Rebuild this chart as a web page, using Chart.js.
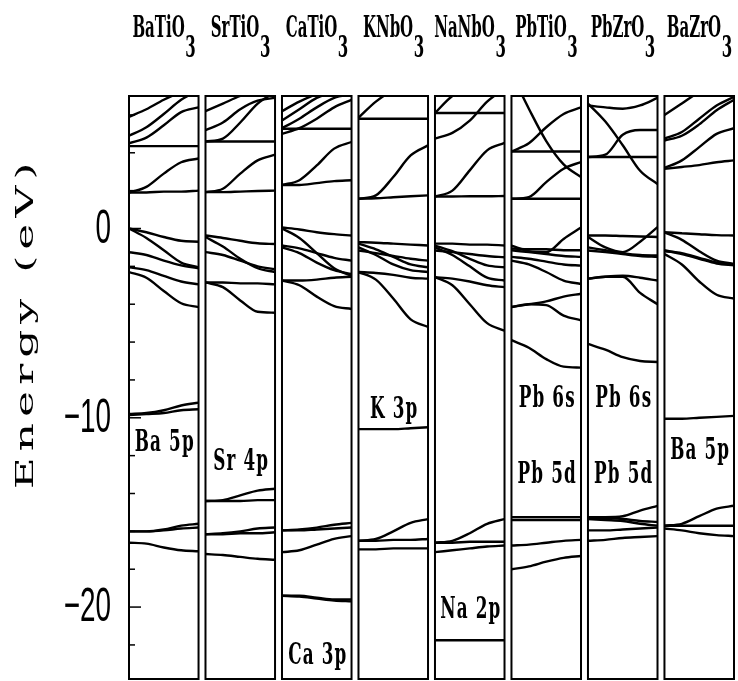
<!DOCTYPE html>
<html><head><meta charset="utf-8">
<script src="https://cdn.jsdelivr.net/npm/chart.js@4/dist/chart.umd.min.js"></script>
<style>html,body{margin:0;padding:0;background:#fff;}canvas{display:block;}</style>
</head><body>
<canvas id="c" width="738" height="681"></canvas>
<script>
// ---- data (energies in eV) ----
const compounds = ['BaTi', 'SrTi', 'CaTi', 'KNb', 'NaNb', 'PbTi', 'PbZr', 'BaZr'];
const kFrac = [0, 0.25, 0.5, 0.75, 1];

const bandsBaTiO3 = [
  [1.9, 1.9, 1.95, 1.95, 2.0], [1.9, 2.2, 2.9, 3.5, 3.7], [4.35, 4.35, 4.35, 4.35, 4.35],
  [4.5, 4.8, 5.45, 6.15, 6.4], [4.9, 5.35, 6.05, 6.8, 7.3], [5.9, 6.3, 6.8, 7.2, 7.4],
  [0, -0.2, -0.45, -0.65, -0.7], [0, -0.5, -1.15, -1.8, -2.05], [-1.25, -1.4, -1.7, -1.95, -2.1],
  [-2.05, -2.2, -2.5, -2.8, -2.95], [-2.3, -2.6, -3.3, -3.95, -4.15],
  [-9.8, -9.75, -9.6, -9.35, -9.2], [-9.85, -9.8, -9.75, -9.6, -9.55],
  [-16.0, -16.0, -15.9, -15.7, -15.6], [-16.0, -16.0, -15.95, -15.85, -15.8], [-16.6, -16.65, -16.85, -17.0, -17.05]
];
const bandsSrTiO3 = [
  [1.92, 1.92, 1.95, 1.98, 2.0], [1.92, 2.1, 2.9, 3.6, 3.9], [4.6, 4.6, 4.6, 4.6, 4.6],
  [4.6, 4.75, 5.6, 6.6, 7.2], [5.2, 5.6, 6.3, 6.75, 6.9], [6.2, 6.6, 7.0, 7.3, 7.4],
  [-0.37, -0.5, -0.65, -0.78, -0.82], [-0.45, -0.95, -1.6, -2.1, -2.3], [-1.25, -1.4, -1.7, -2.0, -2.15],
  [-2.85, -2.85, -2.9, -2.9, -2.95], [-2.85, -3.1, -3.8, -4.4, -4.45],
  [-14.4, -14.35, -14.1, -13.85, -13.75], [-14.4, -14.4, -14.4, -14.35, -14.35],
  [-16.15, -16.1, -16.0, -15.85, -15.8], [-16.15, -16.15, -16.1, -16.1, -16.05], [-17.2, -17.25, -17.35, -17.45, -17.5]
];
const bandsCaTiO3 = [
  [2.3, 2.3, 2.4, 2.5, 2.55], [2.3, 2.55, 3.33, 4.22, 4.57], [5.27, 5.27, 5.27, 5.27, 5.27],
  [5.0, 5.3, 5.8, 6.4, 6.8], [5.3, 5.8, 6.4, 6.9, 7.1], [5.7, 6.3, 6.9, 7.2, 7.3], [6.2, 6.7, 7.1, 7.3, 7.4],
  [0.05, -0.05, -0.2, -0.3, -0.37], [0, -0.5, -1.3, -2.1, -2.5], [-0.9, -1.05, -1.3, -1.55, -1.7],
  [-1.0, -1.3, -1.8, -2.2, -2.4], [-2.75, -2.75, -2.7, -2.6, -2.55], [-2.75, -3.0, -3.6, -4.1, -4.25],
  [-15.95, -15.9, -15.8, -15.65, -15.55], [-15.95, -15.95, -15.9, -15.85, -15.8], [-17.1, -17.0, -16.7, -16.4, -16.25],
  [-19.4, -19.45, -19.55, -19.65, -19.7], [-19.4, -19.4, -19.5, -19.6, -19.6]
];
const bandsKNbO3 = [
  [1.57, 1.6, 1.65, 1.7, 1.75], [1.57, 1.75, 2.72, 3.86, 4.39], [5.8, 5.8, 5.8, 5.8, 5.8],
  [5.85, 6.7, 7.3, 7.5, 7.5],
  [-0.72, -0.75, -0.8, -0.85, -0.9], [-0.8, -1.1, -1.5, -1.9, -2.05], [-1.16, -1.3, -1.45, -1.6, -1.7],
  [-1.0, -1.4, -1.9, -2.2, -2.3], [-2.3, -2.35, -2.45, -2.6, -2.65], [-2.3, -2.7, -3.7, -4.8, -5.2],
  [-10.6, -10.6, -10.6, -10.55, -10.5],
  [-16.5, -16.4, -16.0, -15.55, -15.35], [-16.5, -16.5, -16.45, -16.45, -16.4], [-16.95, -16.95, -16.9, -16.9, -16.9]
];
const bandsNaNbO3 = [
  [1.69, 1.69, 1.7, 1.7, 1.72], [1.69, 2.0, 3.07, 4.13, 4.52], [6.1, 6.1, 6.1, 6.1, 6.1],
  [4.75, 5.05, 5.7, 6.7, 7.4], [6.1, 7.0, 7.4, 7.5, 7.5],
  [-0.8, -0.8, -0.85, -0.85, -0.9], [-0.9, -1.2, -1.6, -1.95, -2.05], [-1.16, -1.25, -1.35, -1.45, -1.52],
  [-1.0, -1.4, -2.0, -2.6, -2.75], [-2.57, -2.65, -2.8, -3.0, -3.1], [-2.57, -3.0, -4.0, -5.0, -5.4],
  [-16.6, -16.5, -16.1, -15.6, -15.35], [-16.6, -16.6, -16.55, -16.55, -16.55], [-17.1, -17.0, -16.9, -16.8, -16.75],
  [-21.75, -21.75, -21.75, -21.75, -21.75]
];
const bandsPbTiO3 = [
  [8.2, 6.33, 4.62, 3.39, 2.72], [4.07, 4.5, 5.35, 6.05, 6.4], [4.07, 4.07, 4.07, 4.07, 4.07],
  [1.57, 1.57, 1.57, 1.57, 1.57], [1.57, 1.66, 2.45, 3.16, 3.51],
  [-1.05, -1.1, -1.1, -1.15, -1.15], [-0.9, -1.2, -1.25, -0.55, 0.05], [-1.15, -1.25, -1.35, -1.45, -1.5],
  [-1.5, -1.6, -1.75, -1.9, -1.96], [-1.7, -1.9, -2.3, -2.75, -2.93],
  [-4.15, -4.0, -3.85, -3.6, -3.45], [-4.15, -4.0, -4.05, -4.6, -4.85], [-5.9, -6.3, -6.9, -7.3, -7.35],
  [-15.25, -15.25, -15.25, -15.25, -15.25], [-15.4, -15.4, -15.4, -15.4, -15.4],
  [-16.75, -16.7, -16.6, -16.5, -16.45], [-18.0, -17.85, -17.6, -17.4, -17.3]
];
const bandsPbZrO3 = [
  [6.5, 6.4, 6.33, 6.5, 6.9], [6.6, 5.65, 4.4, 3.05, 2.35], [3.78, 3.9, 4.95, 5.2, 5.2],
  [3.78, 3.78, 3.78, 3.78, 3.78],
  [-0.37, -0.37, -0.4, -0.42, -0.45], [-0.45, -1.0, -1.25, -0.7, 0.07], [-1.0, -1.15, -1.3, -1.4, -1.43],
  [-1.16, -1.25, -1.35, -1.45, -1.5],
  [-2.65, -2.55, -2.5, -2.6, -2.75], [-2.65, -2.55, -2.55, -3.4, -4.0], [-6.1, -6.4, -6.8, -7.0, -7.05],
  [-15.25, -15.25, -15.2, -14.9, -14.65], [-15.3, -15.3, -15.35, -15.45, -15.5], [-15.35, -15.4, -15.45, -15.6, -15.7],
  [-15.95, -15.95, -15.9, -15.85, -15.8], [-16.5, -16.45, -16.35, -16.3, -16.25]
];
const bandsBaZrO3 = [
  [6.0, 6.6, 7.2, 7.5, 7.5], [4.65, 4.9, 5.5, 6.25, 6.8], [4.75, 5.1, 5.8, 6.5, 6.95],
  [3.2, 3.6, 4.3, 5.0, 5.3], [3.15, 3.25, 3.35, 3.5, 3.6],
  [-0.2, -0.25, -0.3, -0.35, -0.37], [-0.2, -0.6, -1.2, -1.7, -1.87], [-1.15, -1.35, -1.6, -1.85, -1.95],
  [-1.2, -1.3, -1.55, -1.8, -1.9], [-1.35, -1.9, -2.8, -3.5, -3.7],
  [-10.05, -10.05, -10.0, -9.95, -9.9],
  [-15.7, -15.6, -15.2, -14.8, -14.65], [-15.7, -15.7, -15.7, -15.7, -15.7], [-15.85, -15.95, -16.1, -16.2, -16.25]
];
const panelBands = [bandsBaTiO3, bandsSrTiO3, bandsCaTiO3, bandsKNbO3, bandsNaNbO3, bandsPbTiO3, bandsPbZrO3, bandsBaZrO3];

const yTickValues = [6, 4, 2, 0, -2, -4, -6, -8, -10, -12, -14, -16, -18, -20, -22];
const yLabelValues = [0, -10, -20];
const coreLabelText = ['Ba 5p', 'Sr 4p', 'Ca 3p', 'K 3p', 'Na 2p', 'Pb 6s', 'Pb 5d', 'Pb 6s', 'Pb 5d', 'Ba 5p'];
const coreLabelPanel = [0, 1, 2, 3, 4, 5, 5, 6, 6, 7];
const coreLabelEnergy = [-11.75, -12.75, -23.0, -10.0, -20.6, -9.45, -13.45, -9.45, -13.45, -12.2];

// ---- layout constants ----
const E_MIN = -23.8, E_MAX = 7;
const STEP = 1.1;
const SERIF = '"DejaVu Serif", "Liberation Serif", serif';

const datasets = [];
panelBands.forEach((bands, p) => {
  bands.forEach(b => {
    datasets.push({
      data: b.map((e, j) => ({ x: p * STEP + kFrac[j], y: e })),
      borderColor: '#000', borderWidth: 2.4, pointRadius: 0,
      cubicInterpolationMode: 'monotone', fill: false
    });
  });
});

function scaledText(ctx, text, x, y, sx, align) {
  ctx.save(); ctx.translate(x, y); ctx.scale(sx, 1);
  ctx.textAlign = align; ctx.fillText(text, 0, 0); ctx.restore();
}

const decor = {
  id: 'decor',
  afterDatasetsDraw(chart) {
    const ctx = chart.ctx, xs = chart.scales.x, ys = chart.scales.y;
    const top = ys.getPixelForValue(E_MAX), bot = ys.getPixelForValue(E_MIN);
    ctx.save();
    ctx.strokeStyle = '#000'; ctx.fillStyle = '#000';
    // panel frames
    ctx.lineWidth = 2;
    for (let p = 0; p < compounds.length; p++) {
      const x0 = xs.getPixelForValue(p * STEP), x1 = xs.getPixelForValue(p * STEP + 1);
      ctx.strokeRect(x0, top, x1 - x0, bot - top);
    }
    // ticks on first panel
    const xl = xs.getPixelForValue(0);
    ctx.lineWidth = 1.5;
    yTickValues.forEach(v => {
      const y = ys.getPixelForValue(v);
      const len = (v % 10 === 0) ? 12 : 6;
      ctx.beginPath(); ctx.moveTo(xl, y); ctx.lineTo(xl + len, y); ctx.stroke();
    });
    // tick labels
    ctx.font = '48px "Liberation Sans", Arial, sans-serif';
    ctx.textBaseline = 'middle';
    yLabelValues.forEach(v => {
      const t = v < 0 ? '\u2212' + Math.abs(v) : String(v);
      scaledText(ctx, t, 111, ys.getPixelForValue(v) + 1, 0.58, 'right');
    });
    // compound titles
    ctx.textBaseline = 'alphabetic';
    ctx.font = 'bold 30px ' + SERIF;
    const sx = 0.5;
    compounds.forEach((c, p) => {
      const cx = (xs.getPixelForValue(p * STEP) + xs.getPixelForValue(p * STEP + 1)) / 2;
      const main = c + 'O';
      const w1 = ctx.measureText(main).width * sx, w2 = ctx.measureText('3').width * sx;
      const x0 = cx - (w1 + w2) / 2;
      scaledText(ctx, main, x0, 37, sx, 'left');
      scaledText(ctx, '3', x0 + w1 + 0.5, 57, sx, 'left');
    });
    // core level labels
    ctx.font = 'bold 30px ' + SERIF;
    if ('letterSpacing' in ctx) ctx.letterSpacing = '2px';
    coreLabelText.forEach((t, i) => {
      const p = coreLabelPanel[i];
      const cx = (xs.getPixelForValue(p * STEP) + xs.getPixelForValue(p * STEP + 1)) / 2;
      scaledText(ctx, t, cx + 1, ys.getPixelForValue(coreLabelEnergy[i]), 0.56, 'center');
    });
    if ('letterSpacing' in ctx) ctx.letterSpacing = '0px';
    // axis title
    ctx.save();
    ctx.translate(33, 323); ctx.rotate(-Math.PI / 2); ctx.scale(1, 0.56);
    ctx.font = '44px ' + SERIF;
    if ('letterSpacing' in ctx) ctx.letterSpacing = '6px';
    ctx.textAlign = 'center'; ctx.textBaseline = 'alphabetic';
    ctx.fillText('Energy (eV)', 0, 0);
    ctx.restore();
    ctx.restore();
  }
};

new Chart(document.getElementById('c'), {
  type: 'line',
  data: { datasets },
  options: {
    responsive: false, animation: false, devicePixelRatio: 1,
    layout: { padding: { left: 129, right: 4, top: 96, bottom: 2 } },
    plugins: { legend: { display: false }, tooltip: { enabled: false } },
    scales: {
      x: { type: 'linear', display: false, min: 0, max: (compounds.length - 1) * STEP + 1 },
      y: { type: 'linear', display: false, min: E_MIN, max: E_MAX }
    }
  },
  plugins: [decor]
});
</script>
</body></html>
